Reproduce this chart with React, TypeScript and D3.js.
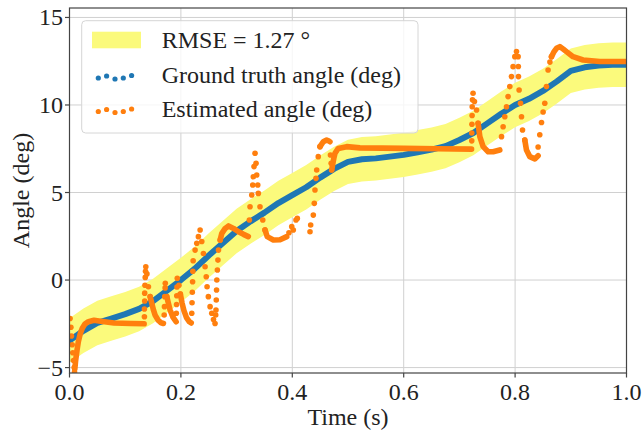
import React from "react";
import * as d3 from "d3";

// ---------- data ----------
const xTicks = [0, 0.2, 0.4, 0.6, 0.8, 1.0];
const xTickLabels = ["0.0", "0.2", "0.4", "0.6", "0.8", "1.0"];
const yTicks = [-5, 0, 5, 10, 15];
const yTickLabels = ["\u22125", "0", "5", "10", "15"];

const rmse = 1.27;

const gtTime = [0, 0.025, 0.05, 0.075, 0.1, 0.125, 0.15, 0.175, 0.2, 0.225, 0.25, 0.275, 0.3, 0.325, 0.35, 0.375, 0.4, 0.425, 0.45, 0.475, 0.5, 0.525, 0.55, 0.575, 0.6, 0.625, 0.65, 0.675, 0.7, 0.725, 0.75, 0.775, 0.8, 0.825, 0.85, 0.875, 0.9, 0.925, 0.95, 0.975, 1.0];
const gtAngle = [-3.45, -2.9, -2.45, -2.2, -1.95, -1.65, -1.2, -0.6, 0.0, 0.65, 1.4, 2.1, 2.8, 3.35, 3.85, 4.4, 4.85, 5.3, 5.85, 6.35, 6.75, 6.9, 6.95, 7.05, 7.15, 7.3, 7.45, 7.65, 8.0, 8.4, 8.95, 9.5, 10.0, 10.35, 10.8, 11.35, 11.95, 12.15, 12.25, 12.3, 12.3];

// slowly-varying parts of the estimate (samples overlap into a solid trace)
const estSegments: [number, number][][] = [
  [[0.0095, -5.1], [0.011, -4.6], [0.0135, -4.0], [0.016, -3.5], [0.019, -3.1], [0.023, -2.75], [0.028, -2.5], [0.034, -2.38], [0.044, -2.3], [0.056, -2.35], [0.08, -2.45], [0.11, -2.48], [0.134, -2.5]],
  [[0.1448, -0.95], [0.1478, -1.33], [0.1507, -1.71], [0.1537, -2.0], [0.159, -2.29], [0.1645, -2.44], [0.1686, -2.48]],
  [[0.1747, -0.95], [0.1776, -1.33], [0.1806, -1.71], [0.1854, -2.1], [0.1914, -2.38]],
  [[0.199, -0.8], [0.202, -1.3], [0.2055, -1.75], [0.21, -2.15], [0.215, -2.38], [0.2185, -2.45]],
  [[0.2705, 2.29], [0.2735, 2.67], [0.2795, 2.95], [0.2855, 3.09], [0.2945, 2.95], [0.3035, 2.76], [0.3125, 2.61], [0.321, 2.48]],
  [[0.351, 2.86], [0.355, 2.48], [0.366, 2.29], [0.378, 2.3], [0.39, 2.48]],
  [[0.4497, 7.62], [0.4556, 7.9], [0.4617, 8.0], [0.4646, 7.96], [0.4676, 7.9]],
  [[0.4707, 6.29], [0.4725, 6.6], [0.4745, 6.95], [0.4766, 7.24], [0.4825, 7.52], [0.4976, 7.62], [0.5214, 7.55], [0.6, 7.52], [0.66, 7.5], [0.7218, 7.48]],
  [[0.7336, 8.95], [0.7367, 8.19], [0.7426, 7.62], [0.7516, 7.33], [0.7605, 7.33], [0.7725, 7.43]],
  [[0.8174, 8.0], [0.8204, 7.43], [0.8264, 7.05], [0.8354, 6.92], [0.8413, 7.1]],
  [[0.8653, 12.76], [0.87, 13.05], [0.8743, 13.24], [0.8802, 13.33], [0.8862, 13.2], [0.8922, 13.05], [0.904, 12.76], [0.922, 12.57], [0.952, 12.48], [1.0, 12.48]],
];

// fast-changing parts of the estimate (individual samples visible)
const estDots: [number, number][] = [
  [0.001, -2.2], [0.0025, -2.7], [0.0035, -3.2], [0.0048, -3.7], [0.006, -4.15], [0.0072, -4.6], [0.0084, -5.0], [0.009, -5.25],
  [0.1345, -2.1], [0.1345, -1.65], [0.135, -1.2], [0.135, -0.75], [0.1355, -0.3], [0.136, 0.15], [0.1365, 0.5], [0.137, 0.76], [0.139, 0.35], [0.1417, -0.38], [0.1448, -0.95],
  [0.17, -2.0], [0.1705, -1.52], [0.171, -0.95], [0.1717, -0.45], [0.172, -0.19], [0.1747, -0.95],
  [0.1918, -1.9], [0.1922, -1.4], [0.1926, -0.9], [0.193, -0.4], [0.1935, 0.1], [0.1965, -0.3], [0.199, -0.8],
  [0.2195, -1.9], [0.22, -1.3], [0.2205, -0.7], [0.221, -0.1], [0.2215, 0.5], [0.222, 1.1], [0.2255, 1.71], [0.2285, 2.1], [0.2314, 2.48], [0.2345, 2.86],
  [0.2375, 2.2], [0.2404, 1.52], [0.2434, 0.76], [0.2455, 0.19], [0.247, -0.38], [0.2493, -0.95], [0.2524, -1.52], [0.2554, -1.9], [0.2585, -2.25], [0.2613, -2.48],
  [0.2625, -2.0], [0.263, -1.71], [0.2635, -1.14], [0.264, -0.57], [0.2645, 0.0], [0.2655, 0.57], [0.2665, 1.14], [0.2675, 1.71], [0.2705, 2.29],
  [0.3229, 3.43], [0.3241, 4.19], [0.3272, 4.86], [0.329, 5.43], [0.33, 5.9], [0.3313, 6.48], [0.3331, 7.24],
  [0.3349, 6.67], [0.3361, 6.0], [0.338, 5.43], [0.339, 4.95], [0.342, 4.19], [0.347, 3.43], [0.351, 2.86],
  [0.394, 2.7], [0.399, 3.05], [0.4018, 2.86], [0.4066, 3.43], [0.409, 3.52],
  [0.4318, 2.76], [0.433, 3.14], [0.4377, 3.71], [0.4395, 4.38], [0.4407, 5.14], [0.4425, 5.81], [0.4438, 6.29], [0.4466, 7.05], [0.4497, 7.62],
  [0.4685, 7.14], [0.4698, 6.67], [0.4707, 6.29],
  [0.7222, 7.95], [0.7222, 8.4], [0.7225, 8.9], [0.7228, 9.4], [0.723, 9.9], [0.7235, 10.3], [0.7245, 10.67], [0.727, 10.2], [0.7308, 9.71], [0.7336, 8.95],
  [0.7756, 8.19], [0.7785, 8.76], [0.7815, 9.33], [0.7846, 9.9], [0.7874, 10.48], [0.7905, 11.05], [0.7935, 11.62], [0.7964, 12.19], [0.7995, 12.76], [0.8025, 13.05],
  [0.8054, 12.76], [0.8058, 12.2], [0.806, 11.62], [0.8072, 10.86], [0.8097, 10.1], [0.8115, 9.33], [0.8133, 8.57], [0.8174, 8.0],
  [0.8413, 7.6], [0.8443, 8.3], [0.8474, 9.0], [0.8503, 9.6], [0.8533, 10.1], [0.8563, 11.05], [0.8592, 12.0], [0.8625, 12.45], [0.8653, 12.76],
];

const legendLabels = ["RMSE = 1.27 \u00b0", "Ground truth angle (deg)", "Estimated angle (deg)"];

// ---------- layout ----------
const W = 644;
const H = 432;
const LEFT = 69.5;
const RIGHT = 626.5;
const TOP = 8;
const BOTTOM = 373;

const BLUE = "#1f77b4";
const ORANGE = "#ff7f0e";
const YELLOW = "#fbfa7c";
const FONT = "'Liberation Serif', 'Times New Roman', serif";

export default function App() {
  const x = d3.scaleLinear().domain([0, 1]).range([LEFT, RIGHT]);
  const y = d3.scaleLinear().domain([-5.31, 15.54]).range([BOTTOM, TOP]);

  const gt = gtTime.map((t, i) => [t, gtAngle[i]] as [number, number]);
  const band = d3
    .area<[number, number]>()
    .x((d) => x(d[0]))
    .y0((d) => y(d[1] - rmse))
    .y1((d) => y(d[1] + rmse));
  const line = d3
    .line<[number, number]>()
    .x((d) => x(d[0]))
    .y((d) => y(d[1]));

  const legendDotsDx = [0, 8.3, 16.7, 25, 33.3];
  const legendDotsDy = [0.5, -1.5, 1.5, 0.5, -2];

  return (
    <svg width={W} height={H} style={{ position: "absolute", left: 0, top: 0, background: "#fff" }} fontFamily={FONT}>
      <defs>
        <clipPath id="plot">
          <rect x={LEFT} y={TOP} width={RIGHT - LEFT} height={BOTTOM - TOP} />
        </clipPath>
      </defs>
      {/* grid */}
      {xTicks.map((t) => (
        <line key={"gx" + t} x1={x(t)} x2={x(t)} y1={TOP} y2={BOTTOM} stroke="#d0d0d0" strokeWidth={1} />
      ))}
      {yTicks.map((t) => (
        <line key={"gy" + t} x1={LEFT} x2={RIGHT} y1={y(t)} y2={y(t)} stroke="#d0d0d0" strokeWidth={1} />
      ))}
      <g clipPath="url(#plot)">
        <path d={band(gt) || ""} fill={YELLOW} />
        <path d={line(gt) || ""} fill="none" stroke={BLUE} strokeWidth={6} strokeLinecap="round" strokeLinejoin="round" />
        {estSegments.map((seg, i) => (
          <path key={"s" + i} d={line(seg) || ""} fill="none" stroke={ORANGE} strokeWidth={5.6} strokeLinecap="round" strokeLinejoin="round" />
        ))}
        {estDots.map((d, i) => (
          <circle key={"d" + i} cx={x(d[0])} cy={y(d[1])} r={2.8} fill={ORANGE} />
        ))}
      </g>
      {/* frame */}
      <rect x={LEFT} y={TOP} width={RIGHT - LEFT} height={BOTTOM - TOP} fill="none" stroke="#444" strokeWidth={1.2} />
      {/* ticks */}
      {xTicks.map((t, i) => (
        <g key={"xt" + t}>
          <line x1={x(t)} x2={x(t)} y1={BOTTOM} y2={BOTTOM + 4.5} stroke="#444" strokeWidth={1.2} />
          <text x={x(t)} y={400} textAnchor="middle" fontSize={24} fill="#222">
            {xTickLabels[i]}
          </text>
        </g>
      ))}
      {yTicks.map((t, i) => (
        <g key={"yt" + t}>
          <line x1={LEFT - 4.5} x2={LEFT} y1={y(t)} y2={y(t)} stroke="#444" strokeWidth={1.2} />
          <text x={63} y={y(t) + 8} textAnchor="end" fontSize={24} fill="#222">
            {yTickLabels[i]}
          </text>
        </g>
      ))}
      {/* axis labels */}
      <text x={(LEFT + RIGHT) / 2} y={425} textAnchor="middle" fontSize={24} fill="#222">
        Time (s)
      </text>
      <text transform={`translate(29,${(TOP + BOTTOM) / 2}) rotate(-90)`} textAnchor="middle" fontSize={24} fill="#222">
        Angle (deg)
      </text>
      {/* legend */}
      <g>
        <rect x={81.7} y={20.7} width={336.3} height={112.3} rx={4} fill="#fff" fillOpacity={0.8} stroke="#d6d6d6" strokeWidth={1} />
        <rect x={92} y={31.7} width={49} height={16.6} fill={YELLOW} />
        {legendDotsDx.map((dx, i) => (
          <circle key={"lb" + i} cx={98.3 + dx} cy={77.5 + legendDotsDy[i]} r={2.6} fill={BLUE} />
        ))}
        {legendDotsDx.map((dx, i) => (
          <circle key={"lo" + i} cx={98.3 + dx} cy={111 + legendDotsDy[i]} r={2.6} fill={ORANGE} />
        ))}
        <text x={161.7} y={48.3} fontSize={24} fill="#222">{legendLabels[0]}</text>
        <text x={161.7} y={83} fontSize={24} fill="#222">{legendLabels[1]}</text>
        <text x={161.7} y={116.5} fontSize={24} fill="#222">{legendLabels[2]}</text>
      </g>
    </svg>
  );
}
